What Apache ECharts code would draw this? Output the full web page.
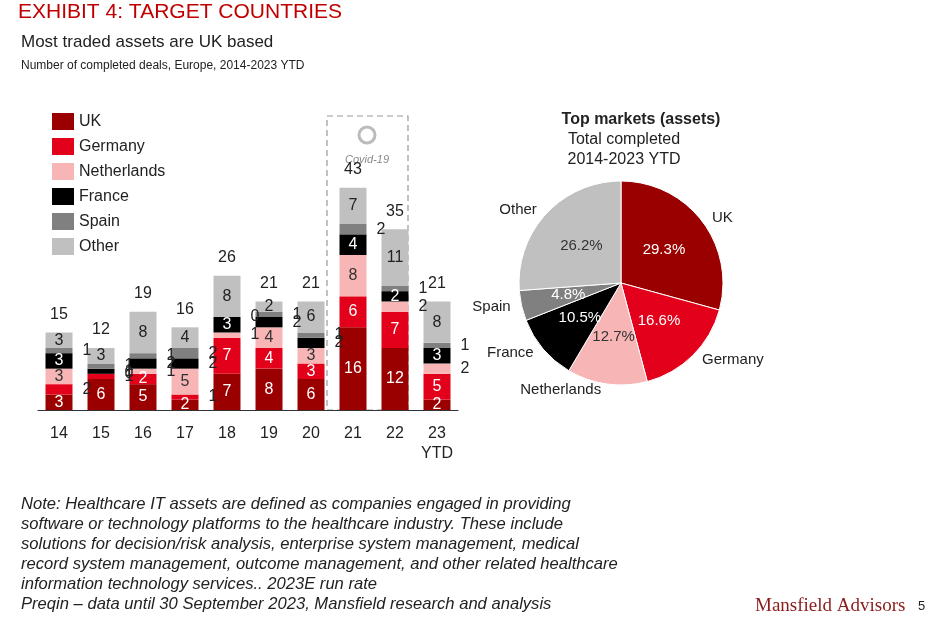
<!DOCTYPE html>
<html><head><meta charset="utf-8">
<script src="https://cdn.jsdelivr.net/npm/echarts@6/dist/echarts.min.js"></script>
<style>body{margin:0;background:#fff}#c{width:940px;height:625px}</style></head>
<body><div id="c"></div>
<script>
const years = ['14','15','16','17','18','19','20','21','22','23\nYTD'];
const seriesNames = ['UK','Germany','Netherlands','France','Spain','Other'];
const uk = [3,6,5,2,7,8,6,16,12,2];
const germany = [2,1,2,1,7,4,3,6,7,5];
const netherlands = [3,0,1,5,1,4,3,8,2,2];
const france = [3,1,2,2,3,2,2,4,2,3];
const spain = [1,1,1,2,0,1,1,2,1,1];
const other = [3,3,8,4,8,2,6,7,11,8];
const totals = [15,12,19,16,26,21,21,43,35,21];
const pieNames = ['UK','Germany','Netherlands','France','Spain','Other'];
const pieValues = [29.3,16.6,12.7,10.5,4.8,26.2];
const colors = ['#9b0000','#e2001a','#f8b5b5','#000000','#808080','#c0c0c0'];
const textCol = ['#fff','#fff','#333','#fff','#fff','#222'];
const allData = [uk,germany,netherlands,france,spain,other];
const outside2 = {1:[0],3:[2,3,5,6],4:[3,7],2:[8,9]};
const font = 'Liberation Sans';
const series = allData.map((arr,si)=>({
  name: seriesNames[si], type:'bar', stack:'s', barWidth:27,
  itemStyle:{color:colors[si]},
  data: arr.map((v,i)=>{
    const out = v<=1 || (outside2[si]||[]).includes(i);
    return {value:v, label:{show:true, position: out?'right':'inside', distance:out?10:0,
      color: out?'#222':textCol[si], fontSize:16, fontFamily:font}};
  })
}));
series.push({type:'bar', stack:'s', barWidth:27, data: totals.map(()=>0), itemStyle:{color:'transparent'},
  label:{show:true, position:'top', distance:10, color:'#222', fontSize:16, fontFamily:font,
  formatter:p=>totals[p.dataIndex]}, tooltip:{show:false}});
series.push({type:'pie', center:[621,283], radius:[0,102], startAngle:90, clockwise:true,
  data: pieNames.map((n,i)=>({name:n,value:pieValues[i],itemStyle:{color:colors[i]}})),
  itemStyle:{borderColor:'#fff',borderWidth:1},
  label:{show:true, position:'inside', formatter:p=>p.value.toFixed(1)+'%', fontSize:15, fontFamily:font,
    color:'#fff'},
  labelLine:{show:false}});
series.push({type:'pie', center:[621,283], radius:[0,102], startAngle:90, silent:true,
  data: pieNames.map((n,i)=>({name:n,value:pieValues[i],itemStyle:{color:'transparent'}})),
  label:{show:true, position:'outside', formatter:'{b}', fontSize:15, fontFamily:font, color:'#222'},
  labelLine:{show:false, length:6, length2:0}});
series[series.length-2].data[2].label={color:'#333'};
series[series.length-2].data[5].label={color:'#333'};
const chart = echarts.init(document.getElementById('c'));
chart.setOption({
  animation:false,
  textStyle:{fontFamily:font},
  grid:{left:38, top:100, width:420, height:310},
  xAxis:{type:'category', data:years, axisTick:{show:false}, axisLine:{lineStyle:{color:'#333'}},
    axisLabel:{fontSize:16, color:'#222', margin:14, lineHeight:20}},
  yAxis:{type:'value', min:0, max:60, show:false},
  legend:{data:seriesNames, orient:'vertical', left:47, top:108, itemWidth:22, itemHeight:17, itemGap:8,
    icon:'rect', textStyle:{fontSize:16, color:'#222'}},
  series:series,
  graphic:[
    {type:'text', left:18, top:2, style:{text:'EXHIBIT 4: TARGET COUNTRIES', fill:'#c00000', font:'21px Liberation Sans'}},
    {type:'text', left:21, top:34, style:{text:'Most traded assets are UK based', fill:'#222', font:'17px Liberation Sans'}},
    {type:'text', left:21, top:60, style:{text:'Number of completed deals, Europe, 2014-2023 YTD', fill:'#222', font:'12px Liberation Sans'}},
    {type:'rect', shape:{x:327,y:116,width:81,height:294}, style:{fill:'none', stroke:'#999', lineDash:[6,4], lineWidth:1.2}},
    {type:'circle', shape:{cx:367,cy:135,r:8}, style:{fill:'none', stroke:'#bbb', lineWidth:3}},
    {type:'text', x:367, y:154, style:{text:'Covid-19', fill:'#888', font:'italic 11px Liberation Sans', align:'center'}},
    {type:'text', x:641, y:112, style:{text:'Top markets (assets)', fill:'#222', font:'bold 16px Liberation Sans', align:'center'}},
    {type:'text', x:624, y:132, style:{text:'Total completed', fill:'#222', font:'16px Liberation Sans', align:'center'}},
    {type:'text', x:624, y:152, style:{text:'2014-2023 YTD', fill:'#222', font:'16px Liberation Sans', align:'center'}},
    {type:'text', left:21, top:494, style:{text:'Note: Healthcare IT assets are defined as companies engaged in providing\nsoftware or technology platforms to the healthcare industry. These include\nsolutions for decision/risk analysis, enterprise system management, medical\nrecord system management, outcome management, and other related healthcare\ninformation technology services.. 2023E run rate\nPreqin – data until 30 September 2023, Mansfield research and analysis',
      fill:'#222', font:'italic 16.6px Liberation Sans', lineHeight:20}},
    {type:'text', left:755, top:597, style:{text:'Mansfield Advisors', fill:'#8b1a1a', font:'19px Liberation Serif'}},
    {type:'text', left:918, top:600, style:{text:'5', fill:'#222', font:'13px Liberation Sans'}}
  ]
});
</script></body></html>
